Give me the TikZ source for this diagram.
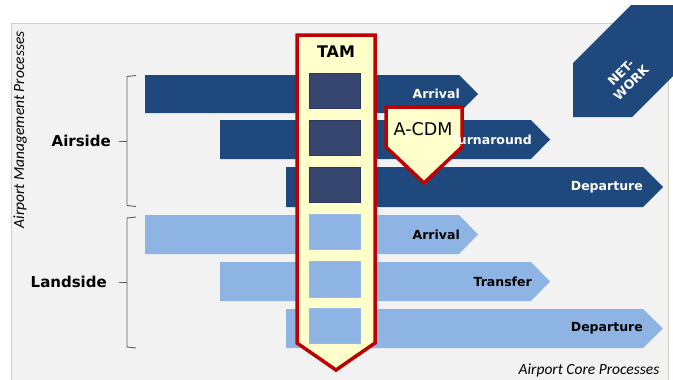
\documentclass[tikz,border=0pt]{standalone}
\usepackage{fontspec}
\setmainfont{DejaVu Sans}
\newfontfamily\notefont{Carlito}
\usepackage{tikz}

\definecolor{darkbar}{RGB}{31,73,125}
\definecolor{lightbar}{RGB}{141,180,226}
\definecolor{darkcell}{RGB}{54,70,110}
\definecolor{tamyellow}{RGB}{255,255,204}
\definecolor{tamred}{RGB}{192,0,0}
\definecolor{panel}{RGB}{242,242,242}
\definecolor{panelline}{RGB}{214,204,196}
\definecolor{bracegray}{RGB}{95,95,95}

\begin{document}
\begin{tikzpicture}[x=1pt,y=-1pt,
    darkarrow/.style={fill=darkbar},
    lightarrow/.style={fill=lightbar},
    barlabel/.style={anchor=east,inner sep=0pt,font=\bfseries\fontsize{12.5}{14}\selectfont},
    sidelabel/.style={anchor=east,inner sep=0pt,font=\bfseries\fontsize{15}{17}\selectfont},
    notelabel/.style={inner sep=0pt,font=\notefont\itshape\fontsize{15.5}{17}\selectfont},
    bracket/.style={draw=bracegray,line width=0.9pt},
    darkcellbox/.style={fill=darkcell,draw=darkcell!80!black,line width=0.6pt},
    lightcellbox/.style={fill=lightbar,draw=lightbar!90!white,line width=0.6pt},
    redframe/.style={draw=tamred,fill=tamyellow,line width=3.5pt,line join=miter}]
    \useasboundingbox (0,0) rectangle (673,380);
    \fill[white] (0,0) rectangle (673,380);
    \filldraw[fill=panel,draw=panelline,line width=0.9pt] (11.5,23) rectangle (668,380);

    % network corner
    \fill[darkbar] (573,117) -- (573,63) -- (631,5) -- (673,5) -- (673,76) -- (632,117) -- cycle;
    \node[rotate=45,text=white,align=center,inner sep=0pt,font=\bfseries\fontsize{12.5}{14.5}\selectfont]
        (network) at (626,78) {NET-\\WORK};

    % airside bars
    \fill[darkarrow] (145,75) -- (459,75) -- (478,94) -- (459,113) -- (145,113) -- cycle;
    \fill[darkarrow] (220,120) -- (531,120) -- (550,139.5) -- (531,159) -- (220,159) -- cycle;
    \fill[darkarrow] (286,167) -- (643,167) -- (663,187) -- (643,207) -- (286,207) -- cycle;
    % landside bars
    \fill[lightarrow] (145,215) -- (459,215) -- (478,234.5) -- (459,254) -- (145,254) -- cycle;
    \fill[lightarrow] (220,262) -- (531,262) -- (550,281.5) -- (531,301) -- (220,301) -- cycle;
    \fill[lightarrow] (286,309) -- (643,309) -- (663,328.5) -- (643,348) -- (286,348) -- cycle;

    % TAM column
    \draw[redframe] (297,35) -- (375,35) -- (375,343) -- (336,370) -- (297,343) -- cycle;
    \node[font=\bfseries\fontsize{16}{18}\selectfont] (tam) at (336,52) {TAM};
    \draw[darkcellbox] (309,73) rectangle (360,108);
    \draw[darkcellbox] (309,120) rectangle (360,155);
    \draw[darkcellbox] (309,167) rectangle (360,202);
    \draw[lightcellbox] (309,214) rectangle (360,249);
    \draw[lightcellbox] (309,261) rectangle (360,297);
    \draw[lightcellbox] (309,308) rectangle (360,343);

    % A-CDM marker
    \draw[redframe] (386,107) -- (462,107) -- (462,147) -- (424,183) -- (386,147) -- cycle;
    \node[font=\fontsize{17.5}{19}\selectfont] (acdm) at (423,129) {A-CDM};

    % bar labels
    \node[barlabel,text=white] (arrA) at (460,94) {Arrival};
    \node[barlabel,text=white] (turnA) at (532,139.5) {Turnaround};
    \node[barlabel,text=white] (depA) at (643,187) {Departure};
    \node[barlabel] (arrL) at (460,234.5) {Arrival};
    \node[barlabel] (transL) at (532,281.5) {Transfer};
    \node[barlabel] (depL) at (643,328.5) {Departure};

    % brackets
    \draw[bracket] (136,75.5) -- (127,76.5) -- (127,205.5) -- (136,206.5);
    \draw[bracket] (127,141) -- (119,141);
    \draw[bracket] (136,217) -- (127,218) -- (127,347) -- (136,348);
    \draw[bracket] (127,282) -- (119,282);
    \node[sidelabel] (airside) at (111,141) {Airside};
    \node[sidelabel] (landside) at (107,282) {Landside};

    % axis notes
    \node[notelabel,rotate=90] (mgmt) at (20,130) {Airport Management Processes};
    \node[notelabel] (core) at (589,370) {Airport Core Processes};
\end{tikzpicture}
\end{document}
